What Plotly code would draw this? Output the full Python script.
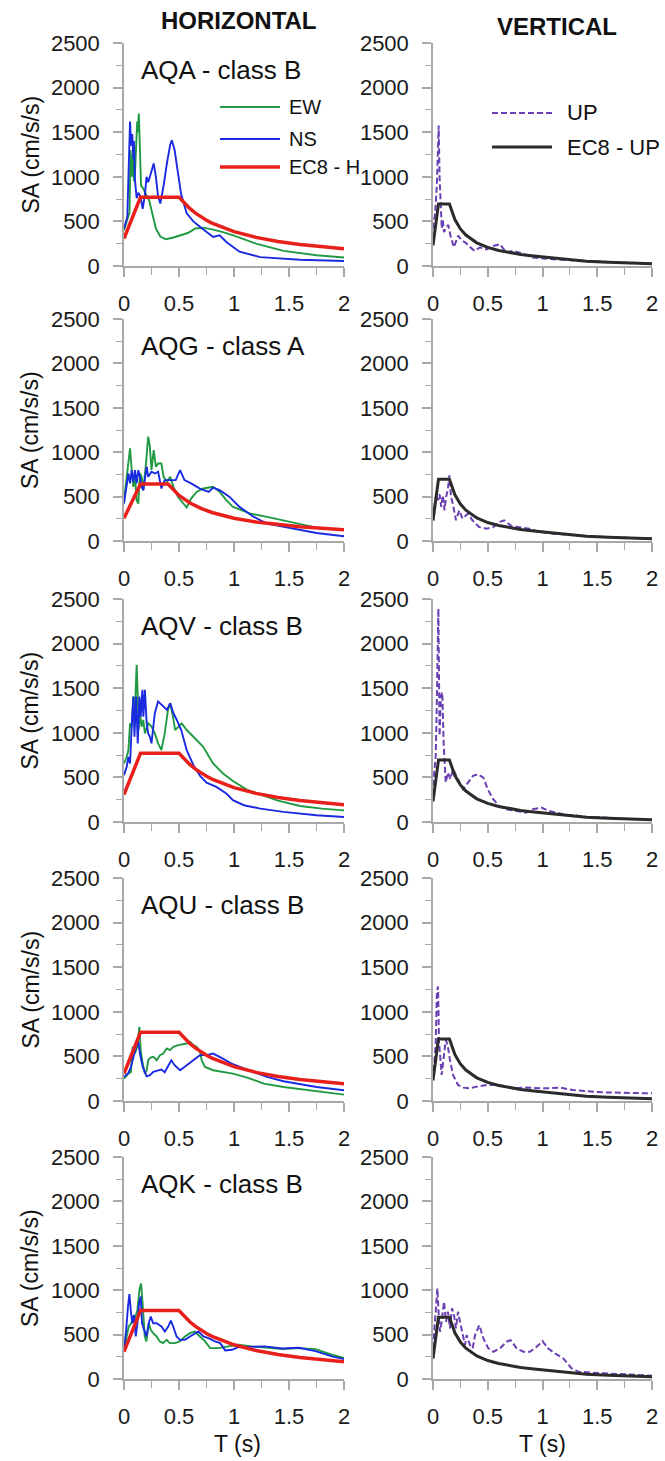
import plotly.graph_objects as go

# ---------------- DATA ----------------
stations = ["AQA - class B", "AQG - class A", "AQV - class B", "AQU - class B", "AQK - class B"]

# EC8 design spectra
ec8_hB_t = [0, 0.15, 0.5, 0.55, 0.6, 0.65, 0.7, 0.75, 0.8, 0.9, 1.0, 1.2, 1.4, 1.6, 1.8, 2.0]
ec8_hB_sa = [308, 770, 770, 700, 642, 592, 550, 513, 481, 428, 385, 321, 275, 241, 214, 193]
ec8_hA_t = [0, 0.15, 0.4, 0.45, 0.5, 0.6, 0.7, 0.8, 0.9, 1.0, 1.2, 1.4, 1.6, 1.8, 2.0]
ec8_hA_sa = [257, 642, 642, 571, 514, 428, 367, 321, 285, 257, 214, 183, 160, 143, 128]
ec8_v_t = [0, 0.05, 0.15, 0.2, 0.25, 0.3, 0.4, 0.5, 0.6, 0.7, 0.8, 0.9, 1.0, 1.2, 1.4, 1.6, 1.8, 2.0]
ec8_v_sa = [231, 694, 694, 520, 416, 347, 260, 208, 174, 149, 130, 116, 104, 72, 53, 41, 32, 26]

# AQA
aqa_ew_t = [0, 0.03, 0.05, 0.06, 0.07, 0.08, 0.09, 0.1, 0.11, 0.12, 0.125, 0.135, 0.145, 0.155, 0.17, 0.19,
            0.21, 0.23, 0.26, 0.29, 0.33, 0.38, 0.45, 0.52, 0.58, 0.65, 0.72, 0.8, 0.9, 1.0, 1.2, 1.45, 1.75, 2.0]
aqa_ew_sa = [400, 520, 600, 1300, 1000, 1250, 950, 1050, 1450, 1620, 1500, 1710, 1300, 900, 880, 820,
             780, 730, 560, 420, 330, 300, 320, 350, 370, 420, 430, 410, 380, 340, 250, 170, 120, 95]
aqa_ns_t = [0, 0.03, 0.045, 0.055, 0.065, 0.075, 0.085, 0.09, 0.1, 0.115, 0.13, 0.15, 0.17, 0.19, 0.205, 0.22,
            0.24, 0.27, 0.29, 0.31, 0.33, 0.36, 0.39, 0.42, 0.435, 0.46, 0.49, 0.52, 0.57, 0.63, 0.69, 0.75,
            0.81, 0.87, 0.93, 1.05, 1.24, 1.6, 2.0]
aqa_ns_sa = [420, 550, 1200, 1620, 1350, 1480, 1200, 1400, 960, 760, 820, 780, 640, 800, 1000, 940,
             1020, 1150, 1000, 780, 700, 900, 1150, 1360, 1410, 1300, 1050, 800, 590, 500, 440, 380,
             325, 345, 270, 160, 100, 70, 56]
aqa_up_t = [0, 0.02, 0.035, 0.045, 0.052, 0.06, 0.07, 0.08, 0.09, 0.1, 0.12, 0.14, 0.16, 0.19, 0.23, 0.26,
            0.3, 0.33, 0.38, 0.43, 0.49, 0.55, 0.61, 0.67, 0.73, 0.79, 0.91, 1.1, 1.4, 1.7, 2.0]
aqa_up_sa = [420, 600, 900, 1300, 1575, 1000, 600, 420, 520, 380, 430, 460, 340, 210, 340, 290,
             260, 220, 170, 210, 185, 225, 245, 150, 170, 150, 95, 75, 56, 37, 26]

# AQG
aqg_ew_t = [0, 0.025, 0.04, 0.055, 0.07, 0.085, 0.1, 0.115, 0.13, 0.145, 0.16, 0.175, 0.2, 0.22, 0.235,
            0.25, 0.27, 0.29, 0.31, 0.34, 0.36, 0.39, 0.42, 0.45, 0.49, 0.54, 0.57, 0.61, 0.66, 0.72, 0.81,
            0.87, 0.93, 0.99, 1.15, 1.3, 1.45, 1.6, 1.75, 2.0]
aqg_ew_sa = [460, 723, 870, 1043, 800, 610, 723, 460, 420, 760, 723, 570, 873, 1175, 1062,
             800, 1024, 836, 873, 873, 723, 666, 723, 610, 497, 420, 376, 478, 553, 591, 610,
             553, 460, 384, 309, 271, 233, 188, 151, 128]
aqg_ns_t = [0, 0.025, 0.04, 0.055, 0.07, 0.085, 0.1, 0.115, 0.13, 0.145, 0.16, 0.176, 0.206, 0.22, 0.25,
            0.28, 0.31, 0.34, 0.37, 0.42, 0.47, 0.51, 0.55, 0.61, 0.69, 0.77, 0.81, 0.87, 0.96, 1.05,
            1.18, 1.3, 1.45, 1.75, 2.0]
aqg_ns_sa = [420, 648, 760, 648, 798, 666, 798, 648, 798, 723, 610, 572, 836, 723, 780,
             760, 780, 591, 685, 685, 685, 798, 685, 648, 591, 553, 602, 572, 497, 384,
             271, 196, 158, 90, 53]
aqg_up_t = [0, 0.015, 0.03, 0.045, 0.06, 0.075, 0.09, 0.105, 0.12, 0.135, 0.15, 0.165, 0.18, 0.21, 0.24,
            0.27, 0.32, 0.36, 0.42, 0.49, 0.55, 0.61, 0.65, 0.72, 0.79, 0.88, 0.97, 1.1, 1.4, 1.7, 2.0]
aqg_up_sa = [270, 422, 535, 459, 527, 384, 516, 346, 497, 572, 740, 497, 422, 233, 346,
             252, 309, 233, 158, 139, 158, 215, 233, 166, 151, 139, 102, 83, 53, 38, 26]

# AQV
aqv_ew_t = [0, 0.025, 0.04, 0.055, 0.07, 0.085, 0.1, 0.115, 0.125, 0.133, 0.145, 0.16, 0.175, 0.19, 0.22,
            0.25, 0.28, 0.31, 0.34, 0.37, 0.4, 0.42, 0.445, 0.465, 0.495, 0.525, 0.57, 0.62, 0.66, 0.72,
            0.81, 0.9, 0.99, 1.12, 1.27, 1.4, 1.6, 1.8, 2.0]
aqv_ew_sa = [656, 731, 806, 1106, 1069, 1406, 1256, 1762, 1406, 1031, 1219, 1069, 1144, 994, 1106,
             1069, 994, 881, 806, 994, 1256, 1331, 1181, 1031, 1069, 1106, 1031, 975, 919, 844,
             656, 544, 460, 360, 300, 240, 180, 150, 130]
aqv_ns_t = [0, 0.025, 0.04, 0.055, 0.07, 0.085, 0.095, 0.11, 0.125, 0.14, 0.152, 0.167, 0.176, 0.19,
            0.206, 0.22, 0.236, 0.25, 0.28, 0.31, 0.36, 0.39, 0.42, 0.45, 0.48, 0.52, 0.57, 0.63, 0.69,
            0.75, 0.84, 0.93, 0.99, 1.09, 1.24, 1.45, 1.75, 2.0]
aqv_ns_sa = [525, 619, 731, 656, 1069, 1406, 956, 1406, 881, 1406, 1181, 1481, 1181, 1481,
             1106, 994, 956, 881, 1219, 1350, 1294, 1256, 1331, 1219, 1144, 1031, 806, 640, 520,
             440, 394, 319, 244, 188, 150, 113, 75, 56]
aqv_up_t = [0, 0.025, 0.036, 0.049, 0.06, 0.073, 0.085, 0.097, 0.116, 0.137, 0.158, 0.183, 0.213, 0.243,
            0.274, 0.32, 0.365, 0.41, 0.46, 0.5, 0.55, 0.61, 0.67, 0.76, 0.85, 0.91, 0.99, 1.06, 1.19,
            1.4, 1.7, 2.0]
aqv_up_sa = [405, 742, 1417, 2392, 967, 1417, 1455, 892, 442, 555, 480, 592, 517, 442,
             367, 442, 517, 536, 498, 367, 255, 172, 142, 124, 105, 142, 161, 124, 86,
             60, 37, 22]

# AQU
aqu_ew_t = [0, 0.04, 0.063, 0.079, 0.1, 0.12, 0.14, 0.152, 0.17, 0.19, 0.206, 0.22, 0.24, 0.267, 0.297,
            0.327, 0.357, 0.388, 0.418, 0.448, 0.494, 0.539, 0.57, 0.6, 0.63, 0.66, 0.69, 0.706, 0.736,
            0.81, 0.9, 0.99, 1.12, 1.27, 1.45, 1.75, 2.0]
aqu_ew_sa = [251, 307, 326, 607, 532, 607, 832, 570, 420, 307, 345, 457, 487, 495, 457,
             514, 532, 589, 570, 607, 626, 637, 645, 664, 626, 607, 562, 457, 382,
             345, 326, 307, 262, 195, 157, 112, 71]
aqu_ns_t = [0, 0.04, 0.063, 0.085, 0.109, 0.13, 0.145, 0.17, 0.206, 0.236, 0.267, 0.297, 0.34, 0.37, 0.4,
            0.43, 0.46, 0.51, 0.57, 0.63, 0.69, 0.75, 0.81, 0.87, 0.99, 1.15, 1.3, 1.45, 1.75, 2.0]
aqu_ns_sa = [270, 315, 382, 495, 607, 664, 532, 382, 277, 289, 326, 337, 352, 322, 382,
             457, 401, 345, 401, 457, 514, 514, 532, 495, 412, 337, 270, 221, 157, 120]
aqu_up_t = [0, 0.024, 0.036, 0.046, 0.055, 0.067, 0.079, 0.097, 0.116, 0.134, 0.152, 0.183, 0.228, 0.274,
            0.335, 0.396, 0.49, 0.61, 0.73, 0.85, 1.03, 1.16, 1.28, 1.55, 2.0]
aqu_up_sa = [236, 628, 1227, 1283, 666, 404, 292, 479, 684, 628, 479, 292, 180, 150,
             142, 161, 180, 180, 142, 150, 142, 150, 123, 97, 86]

# AQK
aqk_ew_t = [0, 0.02, 0.043, 0.067, 0.082, 0.097, 0.122, 0.14, 0.155, 0.167, 0.176, 0.189, 0.204, 0.225,
            0.243, 0.265, 0.296, 0.326, 0.356, 0.387, 0.417, 0.463, 0.508, 0.554, 0.6, 0.645, 0.69, 0.737,
            0.783, 0.859, 0.95, 1.04, 1.16, 1.28, 1.44, 1.59, 1.74, 1.89, 2.0]
aqk_ew_sa = [329, 441, 591, 628, 703, 666, 778, 1002, 1077, 890, 666, 479, 423, 628,
             553, 516, 479, 423, 404, 441, 404, 404, 423, 479, 516, 535, 479, 423,
             348, 348, 367, 385, 367, 352, 337, 348, 337, 273, 236]
aqk_ns_t = [0, 0.02, 0.036, 0.049, 0.061, 0.076, 0.091, 0.107, 0.122, 0.137, 0.152, 0.164, 0.183, 0.204,
            0.225, 0.243, 0.265, 0.296, 0.341, 0.371, 0.402, 0.426, 0.447, 0.478, 0.508, 0.554, 0.6,
            0.645, 0.676, 0.722, 0.767, 0.828, 0.874, 0.92, 0.98, 1.04, 1.16, 1.28, 1.44, 1.59, 1.74,
            1.89, 2.0]
aqk_ns_sa = [329, 553, 815, 957, 778, 628, 722, 479, 628, 853, 928, 628, 553, 479,
             628, 703, 628, 628, 591, 535, 591, 658, 591, 479, 441, 441, 479,
             516, 535, 479, 460, 423, 404, 322, 329, 359, 359, 367, 344, 352, 314,
             254, 224]
aqk_up_t = [0, 0.024, 0.04, 0.052, 0.064, 0.079, 0.101, 0.119, 0.137, 0.155, 0.174, 0.192, 0.21, 0.228,
            0.246, 0.271, 0.292, 0.308, 0.338, 0.362, 0.384, 0.423, 0.46, 0.505, 0.551, 0.612, 0.673,
            0.709, 0.764, 0.825, 0.886, 0.947, 1.0, 1.05, 1.114, 1.19, 1.266, 1.327, 1.4, 1.56, 1.71,
            1.86, 2.0]
aqk_up_sa = [345, 832, 1020, 720, 532, 645, 870, 645, 757, 570, 795, 720, 570, 757,
             645, 495, 382, 495, 382, 345, 495, 607, 457, 345, 307, 345, 420,
             438, 345, 307, 307, 364, 427, 345, 288, 232, 120, 82, 75, 64, 56,
             45, 37]

horizontal = [
    (aqa_ew_t, aqa_ew_sa, aqa_ns_t, aqa_ns_sa, ec8_hB_t, ec8_hB_sa),
    (aqg_ew_t, aqg_ew_sa, aqg_ns_t, aqg_ns_sa, ec8_hA_t, ec8_hA_sa),
    (aqv_ew_t, aqv_ew_sa, aqv_ns_t, aqv_ns_sa, ec8_hB_t, ec8_hB_sa),
    (aqu_ew_t, aqu_ew_sa, aqu_ns_t, aqu_ns_sa, ec8_hB_t, ec8_hB_sa),
    (aqk_ew_t, aqk_ew_sa, aqk_ns_t, aqk_ns_sa, ec8_hB_t, ec8_hB_sa),
]
vertical = [
    (aqa_up_t, aqa_up_sa), (aqg_up_t, aqg_up_sa), (aqv_up_t, aqv_up_sa),
    (aqu_up_t, aqu_up_sa), (aqk_up_t, aqk_up_sa),
]

x_tickvals = [0, 0.5, 1, 1.5, 2]
x_ticktext = ["0", "0.5", "1", "1.5", "2"]
y_tickvals = [0, 500, 1000, 1500, 2000, 2500]

# ---------------- STYLE / LAYOUT ----------------
W, H = 665, 1461
FONT = "Liberation Sans, Arial, sans-serif"
GREEN, BLUE, RED, BLACK, PURPLE = "#1f9a42", "#1a2ae0", "#e8201c", "#2b2b2b", "#6b40b2"
AXC = "#a8a8a8"
DASH = "6px,3px"


def fx(p):
    return p / W


def fy(p):
    return 1 - p / H


col_px = [(124, 344), (433, 652)]
row_px = [(43, 266), (319, 541), (599, 822), (878, 1101), (1157, 1379)]

fig = go.Figure()
layout = dict(width=W, height=H, margin=dict(l=0, r=0, t=0, b=0, pad=0, autoexpand=False), autosize=False,
              paper_bgcolor="white", plot_bgcolor="white", showlegend=False,
              font=dict(family=FONT, color="#1a1a1a"))
annotations = []
shapes = []

tickfont = dict(family=FONT, size=22, color="#1a1a1a")

for r in range(5):
    for c in range(2):
        i = r * 2 + c + 1
        xa = "x" if i == 1 else f"x{i}"
        ya = "y" if i == 1 else f"y{i}"
        layout["xaxis" if i == 1 else f"xaxis{i}"] = dict(
            domain=[fx(col_px[c][0]), fx(col_px[c][1])], anchor=ya, range=[0, 2], automargin=False,
            tickvals=x_tickvals, ticktext=x_ticktext, showline=True, linecolor=AXC, linewidth=1.5,
            ticks="outside", ticklen=9, tickwidth=1.5, tickcolor=AXC, showgrid=False, zeroline=False,
            tickfont=tickfont, ticklabelstandoff=8,
            minor=dict(tickvals=[0.25, 0.75, 1.25, 1.75], ticks="outside", ticklen=7, tickwidth=1.2,
                       tickcolor=AXC, showgrid=False))
        layout["yaxis" if i == 1 else f"yaxis{i}"] = dict(
            domain=[fy(row_px[r][1]), fy(row_px[r][0])], anchor=xa, range=[0, 2500], automargin=False,
            tickvals=y_tickvals, showline=True, linecolor=AXC, linewidth=1.5,
            ticks="outside", ticklen=9, tickwidth=1.5, tickcolor=AXC, showgrid=False, zeroline=False,
            tickfont=tickfont, ticklabelstandoff=9,
            minor=dict(dtick=250, tick0=0, ticks="outside", ticklen=6, tickwidth=1.2,
                       tickcolor=AXC, showgrid=False))
        if c == 0:
            ew_t, ew_sa, ns_t, ns_sa, e_t, e_sa = horizontal[r]
            fig.add_trace(go.Scatter(x=ew_t, y=ew_sa, mode="lines", name="EW",
                                     line=dict(color=GREEN, width=1.9), xaxis=xa, yaxis=ya))
            fig.add_trace(go.Scatter(x=ns_t, y=ns_sa, mode="lines", name="NS",
                                     line=dict(color=BLUE, width=1.9), xaxis=xa, yaxis=ya))
            fig.add_trace(go.Scatter(x=e_t, y=e_sa, mode="lines", name="EC8 - H",
                                     line=dict(color=RED, width=3.5), xaxis=xa, yaxis=ya))
        else:
            up_t, up_sa = vertical[r]
            fig.add_trace(go.Scatter(x=up_t, y=up_sa, mode="lines", name="UP",
                                     line=dict(color=PURPLE, width=2, dash=DASH), xaxis=xa, yaxis=ya))
            fig.add_trace(go.Scatter(x=ec8_v_t, y=ec8_v_sa, mode="lines", name="EC8 - UP",
                                     line=dict(color=BLACK, width=3), xaxis=xa, yaxis=ya))

    # panel label
    annotations.append(dict(text=stations[r], x=fx(139), y=fy(row_px[r][0] + 27), xref="paper", yref="paper",
                            xanchor="left", yanchor="middle", showarrow=False,
                            font=dict(family=FONT, size=26, color="#111111")))
    # y title
    annotations.append(dict(text="SA (cm/s/s)", x=fx(30), y=fy((row_px[r][0] + row_px[r][1]) / 2),
                            xref="paper", yref="paper", xanchor="center", yanchor="middle",
                            textangle=-90, showarrow=False,
                            font=dict(family=FONT, size=23, color="#111111")))

# column headers
annotations.append(dict(text="<b>HORIZONTAL</b>", x=fx(239), y=fy(20), xref="paper", yref="paper",
                        xanchor="center", yanchor="middle", showarrow=False,
                        font=dict(family=FONT, size=24, color="#111111")))
annotations.append(dict(text="<b>VERTICAL</b>", x=fx(557), y=fy(26), xref="paper", yref="paper",
                        xanchor="center", yanchor="middle", showarrow=False,
                        font=dict(family=FONT, size=24, color="#111111")))
# x titles
for cx in (237, 542):
    annotations.append(dict(text="T (s)", x=fx(cx), y=fy(1444), xref="paper", yref="paper",
                            xanchor="center", yanchor="middle", showarrow=False,
                            font=dict(family=FONT, size=23, color="#111111")))

# legends (swatch + label)
legend_left = [("EW", GREEN, 1.9, "solid", 107), ("NS", BLUE, 1.9, "solid", 139), ("EC8 - H", RED, 3.5, "solid", 167)]
for name, col, w, dash, yp in legend_left:
    shapes.append(dict(type="line", xref="paper", yref="paper", x0=fx(220), x1=fx(280), y0=fy(yp), y1=fy(yp),
                       line=dict(color=col, width=w, dash=dash)))
    annotations.append(dict(text=name, x=fx(287), y=fy(yp), xref="paper", yref="paper", xanchor="left",
                            yanchor="middle", showarrow=False, font=dict(family=FONT, size=20, color="#111111")))
legend_right = [("UP", PURPLE, 2, DASH, 113), ("EC8 - UP", BLACK, 3, "solid", 147)]
for name, col, w, dash, yp in legend_right:
    shapes.append(dict(type="line", xref="paper", yref="paper", x0=fx(492), x1=fx(552), y0=fy(yp), y1=fy(yp),
                       line=dict(color=col, width=w, dash=dash)))
    annotations.append(dict(text=name, x=fx(565), y=fy(yp), xref="paper", yref="paper", xanchor="left",
                            yanchor="middle", showarrow=False, font=dict(family=FONT, size=22, color="#111111")))

layout["annotations"] = annotations
layout["shapes"] = shapes
fig.update_layout(**layout)
fig.write_html("out.html")
